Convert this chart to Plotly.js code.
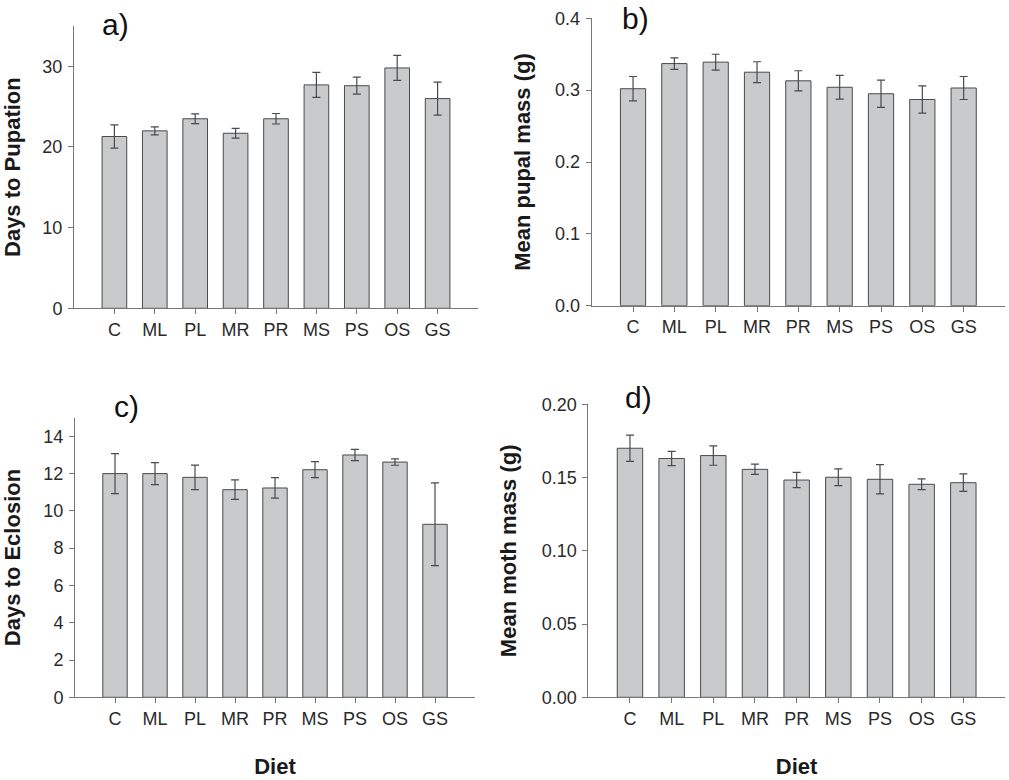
<!DOCTYPE html>
<html>
<head>
<meta charset="utf-8">
<script src="https://cdn.plot.ly/plotly-3.0.1.min.js"></script>
<style>html,body{margin:0;padding:0;background:#fff;}#chart{width:1009px;height:780px;}</style>
</head>
<body>
<div id="chart"></div>
<script>
const diets = ['C', 'ML', 'PL', 'MR', 'PR', 'MS', 'PS', 'OS', 'GS'];
const pupationDays = [21.3, 22.0, 23.5, 21.7, 23.5, 27.7, 27.6, 29.8, 26.0];
const pupationErr = [1.45, 0.5, 0.6, 0.6, 0.65, 1.55, 1.05, 1.55, 2.05];
const pupalMass = [0.302, 0.337, 0.339, 0.325, 0.313, 0.304, 0.295, 0.287, 0.303];
const pupalErr = [0.017, 0.008, 0.011, 0.0145, 0.014, 0.0165, 0.019, 0.019, 0.016];
const eclosionDays = [12.0, 12.0, 11.8, 11.14, 11.23, 12.21, 13.0, 12.62, 9.28];
const eclosionErr = [1.07, 0.59, 0.66, 0.52, 0.55, 0.43, 0.3, 0.17, 2.22];
const mothMass = [0.170, 0.163, 0.165, 0.1556, 0.1483, 0.1502, 0.1488, 0.1454, 0.1465];
const mothErr = [0.009, 0.0048, 0.0066, 0.0035, 0.0052, 0.0057, 0.01, 0.0037, 0.006];
const panelLabels = ['a)', 'b)', 'c)', 'd)'];
const yTitles = ['Days to Pupation', 'Mean pupal mass (g)', 'Days to Eclosion', 'Mean moth mass (g)'];
const xTitle = 'Diet';

const W = 1009, H = 780;
const px = x => x / W;
const py = y => 1 - y / H;

const barFill = '#c9cacc';
const barLine = '#4a4a4a';
const errColor = '#4a4a4a';
const axisColor = '#777777';
const tickFont = {family: 'Liberation Sans, Arial, sans-serif', size: 18, color: '#2a2a2a'};
const titleFont = {family: 'Liberation Sans, Arial, sans-serif', size: 22, color: '#1a1a1a', weight: 'bold'};

function barTrace(vals, errs, xa, ya) {
  return {
    type: 'bar', x: diets, y: vals, xaxis: xa, yaxis: ya, width: 0.61,
    marker: {color: barFill, line: {color: barLine, width: 1}},
    error_y: {type: 'data', array: errs, visible: true, color: errColor, thickness: 1.2, width: 4},
    showlegend: false, hoverinfo: 'x+y'
  };
}

const data = [
  barTrace(pupationDays, pupationErr, 'x', 'y'),
  barTrace(pupalMass, pupalErr, 'x2', 'y2'),
  barTrace(eclosionDays, eclosionErr, 'x3', 'y3'),
  barTrace(mothMass, mothErr, 'x4', 'y4')
];

function xAxis(domain, anchor, showTitle) {
  const a = {
    domain: domain, anchor: anchor, type: 'category', range: [-1, 9],
    showline: true, linecolor: axisColor, linewidth: 1, mirror: false,
    ticks: 'outside', ticklen: 5, tickcolor: axisColor, tickfont: tickFont,
    showgrid: false, zeroline: false, fixedrange: true
  };
  if (showTitle) a.title = {text: xTitle, font: titleFont, standoff: 30};
  return a;
}
function yAxis(domain, anchor, range, dtick, fmt, title) {
  return {
    domain: domain, anchor: anchor, range: range, dtick: dtick, tick0: 0, tickformat: fmt,
    showline: true, linecolor: axisColor, linewidth: 1,
    ticks: 'outside', ticklen: 5, tickcolor: axisColor, tickfont: tickFont,
    ticklabelstandoff: 2,
    showgrid: false, zeroline: false, fixedrange: true,
    title: {text: title, font: titleFont, standoff: 18}
  };
}

const layout = {
  width: W, height: H,
  margin: {l: 0, r: 0, t: 0, b: 0},
  paper_bgcolor: '#ffffff', plot_bgcolor: '#ffffff',
  xaxis: xAxis([px(74), px(478)], 'y', false),
  yaxis: yAxis([py(308.3), py(26)], 'x', [0, 35], 10, 'd', yTitles[0]),
  xaxis2: xAxis([px(591.7), px(1005)], 'y2', false),
  yaxis2: yAxis([py(305.7), py(18.3)], 'x2', [0, 0.4], 0.1, '.1f', yTitles[1]),
  xaxis3: xAxis([px(75), px(475)], 'y3', true),
  yaxis3: yAxis([py(697.3), py(417.7)], 'x3', [0, 15], 2, 'd', yTitles[2]),
  xaxis4: xAxis([px(588.3), px(1005)], 'y4', true),
  yaxis4: yAxis([py(697.3), py(404.3)], 'x4', [0, 0.2], 0.05, '.2f', yTitles[3]),
  annotations: [
    [115, 24], [635.8, 18], [126.7, 406], [638.3, 397.5]
  ].map((p, i) => ({
    text: panelLabels[i], xref: 'paper', yref: 'paper', x: px(p[0]), y: py(p[1]),
    xanchor: 'center', yanchor: 'middle', showarrow: false,
    font: {family: 'Liberation Sans, Arial, sans-serif', size: 30, color: '#111111'}
  }))
};

Plotly.newPlot('chart', data, layout, {displayModeBar: false, staticPlot: true});
</script>
</body>
</html>
